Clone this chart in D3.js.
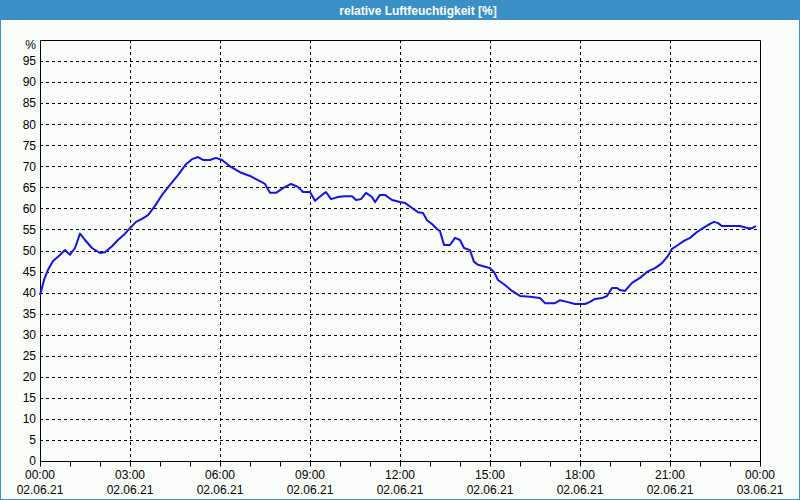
<!DOCTYPE html>
<html>
<head>
<meta charset="utf-8">
<script src="https://cdn.jsdelivr.net/npm/d3@7"></script>
<style>
html,body{margin:0;padding:0;background:#fff;}
svg{display:block;}
</style>
</head>
<body>
<svg id="chart" width="800" height="500"></svg>
<script>
// ---- data ----
const chartTitle = "relative Luftfeuchtigkeit [%]";
const yUnit = "%";
const minutes = [0,8,16,26,36,50,60,70,80,90,104,120,130,144,156,170,180,192,204,216,230,244,260,276,292,304,316,326,340,352,364,380,400,420,436,450,460,472,486,502,516,526,540,550,564,572,582,596,608,624,632,642,652,664,670,680,690,704,720,730,744,756,766,774,784,794,800,808,820,830,840,848,860,868,876,892,900,908,916,930,944,960,980,1000,1010,1030,1040,1054,1070,1090,1100,1110,1124,1134,1144,1154,1160,1170,1184,1200,1214,1230,1244,1256,1264,1276,1288,1300,1314,1326,1340,1348,1356,1364,1380,1400,1416,1424,1432];
const humidity = [39.4,43,45.4,47.5,48.5,50.1,49,50.6,54,52.5,50.6,49.4,49.6,51,52.5,54,55.3,56.8,57.5,58.4,60.6,63.2,65.6,67.9,70.5,71.7,72.2,71.5,71.5,72,71.5,70,68.6,67.7,66.7,65.8,63.7,63.7,64.8,65.8,65.1,63.9,63.9,61.8,63.2,63.9,62.2,62.7,62.9,62.9,62,62.2,63.7,62.7,61.5,63.2,63.2,62,61.5,61.3,60.1,59.1,58.9,57.2,56.3,55.1,54.6,51.3,51.3,53,52.5,50.6,50.1,47.3,46.6,46.1,45.8,44.9,43,41.8,40.4,39.2,39,38.7,37.5,37.5,38.2,37.8,37.3,37.3,37.8,38.5,38.7,39.2,41.1,41.1,40.6,40.4,42.3,43.5,44.9,45.8,47,48.7,50.4,51.3,52.3,53,54.4,55.3,56.3,56.8,56.5,55.8,55.8,55.8,55.3,55.3,55.8];
const yTicks = [0,5,10,15,20,25,30,35,40,45,50,55,60,65,70,75,80,85,90,95];
const xTickTimes = ["00:00","03:00","06:00","09:00","12:00","15:00","18:00","21:00","00:00"];
const xTickDates = ["02.06.21","02.06.21","02.06.21","02.06.21","02.06.21","02.06.21","02.06.21","02.06.21","03.06.21"];

// ---- layout ----
const W = 800, H = 500;
const pLeft = 40, pRight = 760, pTop = 40, pBottom = 461;
const font = "'Liberation Sans', Arial, sans-serif";

const svg = d3.select("#chart");
const start = new Date(2021, 5, 2, 0, 0);
const end = new Date(2021, 5, 3, 0, 0);
const x = d3.scaleTime().domain([start, end]).range([pLeft, pRight]);
const y = d3.scaleLinear().domain([0, 100]).range([pBottom, pTop]);
const toDate = m => new Date(start.getTime() + m * 60000);

// background + frame
svg.append("rect").attr("x",0).attr("y",0).attr("width",W).attr("height",H).attr("fill","#fbfdfb");
svg.append("rect").attr("x",0.5).attr("y",0.5).attr("width",W-1).attr("height",H-1)
  .attr("fill","none").attr("stroke","#3b8fc7").attr("stroke-width",1);
svg.append("rect").attr("x",0).attr("y",0).attr("width",W).attr("height",20).attr("fill","#3b8fc7");
svg.append("text").attr("x",418).attr("y",14.5).attr("text-anchor","middle")
  .attr("fill","#fff").attr("font-family",font).attr("font-size",12).attr("font-weight","bold")
  .text(chartTitle);

// horizontal grid
const grid = svg.append("g").attr("stroke","#000").attr("stroke-width",1).attr("stroke-dasharray","3,3");
yTicks.filter(v => v > 0).forEach(v => {
  grid.append("line").attr("x1",pLeft).attr("x2",pRight)
    .attr("y1",Math.round(y(v))+0.5).attr("y2",Math.round(y(v))+0.5);
});
// vertical grid
const gridHours = d3.range(3, 24, 3);
gridHours.forEach(h => {
  const xv = Math.round(x(toDate(h*60)))+0.5;
  grid.append("line").attr("x1",xv).attr("x2",xv).attr("y1",pTop).attr("y2",pBottom);
});

// y axis labels
const yAxis = d3.axisLeft(y).tickValues(yTicks).tickSize(0).tickPadding(4);
const gy = svg.append("g").attr("transform",`translate(${pLeft},0)`).call(yAxis);
gy.select(".domain").remove();
gy.selectAll("text").attr("font-family",font).attr("font-size",12).attr("fill","#000");
svg.append("text").attr("x",36).attr("y",49).attr("text-anchor","end")
  .attr("font-family",font).attr("font-size",12).attr("fill","#000").text(yUnit);

// x axis with hourly minor ticks
const hourTicks = d3.range(0, 25).map(h => toDate(h*60));
const xAxis = d3.axisBottom(x).tickValues(hourTicks).tickSize(5).tickFormat("");
const gx = svg.append("g").attr("transform",`translate(0,${pBottom+0.5})`).call(xAxis);
gx.select(".domain").attr("stroke","#000").attr("d",`M${pLeft},0H${pRight}`);
gx.selectAll(".tick line").attr("stroke","#000");

// x labels (two lines)
const labelTicks = d3.range(0, 25, 3).map(h => toDate(h*60));
labelTicks.forEach((d, i) => {
  const t = svg.append("text").attr("x", x(d)).attr("y", 479).attr("text-anchor","middle")
    .attr("font-family",font).attr("font-size",12).attr("fill","#000");
  t.append("tspan").attr("x", x(d)).text(xTickTimes[i]);
  t.append("tspan").attr("x", x(d)).attr("dy", 15).text(xTickDates[i]);
});

// plot frame (left, top, right)
svg.append("path").attr("d",`M${pLeft+0.5},${pBottom}V${pTop+0.5}H${pRight+0.5}V${pBottom+1}`)
  .attr("fill","none").attr("stroke","#000").attr("stroke-width",1);

// data line
const pts = minutes.map((m,i) => ({t: toDate(m), v: humidity[i]}));
svg.append("path").datum(pts)
  .attr("fill","none").attr("stroke","#1414e6").attr("stroke-width",2).attr("stroke-linejoin","round")
  .attr("d", d3.line().x(d => x(d.t)).y(d => y(d.v)));
</script>
</body>
</html>
